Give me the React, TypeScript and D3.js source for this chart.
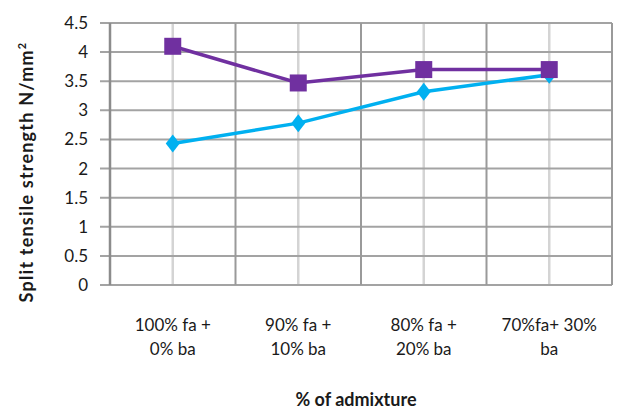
import { useMemo } from "react";
import * as d3 from "d3";

const categories = [
  ["100% fa +", "0% ba"],
  ["90% fa +", "10% ba"],
  ["80% fa +", "20% ba"],
  ["70%fa+ 30%", "ba"],
];
const purpleValues = [4.1, 3.47, 3.7, 3.7];
const blueValues = [2.43, 2.78, 3.32, 3.61];
const yTicks = [0, 0.5, 1, 1.5, 2, 2.5, 3, 3.5, 4, 4.5];

const W = 621;
const H = 413;
const PLOT = { left: 110, right: 612, top: 23, bottom: 285 };
const FONT = "Lato, 'Open Sans', sans-serif";

const App = () => {
  const xScale = useMemo(
    () =>
      d3
        .scaleBand<number>()
        .domain(d3.range(categories.length))
        .range([PLOT.left, PLOT.right]),
    []
  );
  const yScale = d3.scaleLinear().domain([0, 4.5]).range([PLOT.bottom, PLOT.top]);
  const cx = (i: number) => xScale(i)! + xScale.bandwidth() / 2;

  const line = d3
    .line<number>()
    .x((_, i) => cx(i))
    .y((d) => yScale(d));

  const bounds = d3.range(categories.length + 1).map((i) => PLOT.left + i * xScale.bandwidth());
  // diamond marker, a bit taller than wide
  const diamond = "M0,-9L7,0L0,9L-7,0Z";

  return (
    <svg width={W} height={H} style={{ position: "absolute", left: 0, top: 0, background: "#fff" }}>
      {categories.map((_, i) => (
        <line key={"c" + i} x1={cx(i)} x2={cx(i)} y1={PLOT.top} y2={PLOT.bottom} stroke="#d4d4d4" strokeWidth={2.5} />
      ))}
      {yTicks.map((t) => (
        <g key={t}>
          <line x1={100} x2={PLOT.right} y1={yScale(t)} y2={yScale(t)} stroke="#a3a3a3" strokeWidth={2} />
          <text x={88} y={yScale(t)} dy="0.35em" textAnchor="end" fontFamily={FONT} fontSize={17} fill="#1a1a1a">
            {t}
          </text>
        </g>
      ))}
      {bounds.map((x, i) => (
        <line key={"b" + i} x1={x} x2={x} y1={PLOT.top} y2={PLOT.bottom} stroke="#9a9a9a" strokeWidth={2} />
      ))}
      <line x1={PLOT.left} x2={PLOT.left} y1={PLOT.top} y2={PLOT.bottom} stroke="#8c8c8c" strokeWidth={2.5} />

      <path d={line(blueValues)!} fill="none" stroke="#00b0f0" strokeWidth={3.5} />
      {blueValues.map((v, i) => (
        <path key={"d" + i} d={diamond} transform={`translate(${cx(i)},${yScale(v)})`} fill="#00b0f0" />
      ))}
      <path d={line(purpleValues)!} fill="none" stroke="#7030a0" strokeWidth={3.5} />
      {purpleValues.map((v, i) => (
        <rect key={"s" + i} x={cx(i) - 8.5} y={yScale(v) - 8.5} width={17} height={17} fill="#7030a0" />
      ))}

      {categories.map((c, i) =>
        c.map((s, j) => (
          <text
            key={"t" + i + j}
            x={cx(i)}
            y={331 + j * 24}
            textAnchor="middle"
            fontFamily={FONT}
            fontSize={17}
            fill="#1a1a1a"
          >
            {s}
          </text>
        ))
      )}
      <text x={356} y={406} textAnchor="middle" fontFamily={FONT} fontSize={18} fontWeight="bold" fill="#1a1a1a">
        % of admixture
      </text>
      <text
        transform="translate(33,172) rotate(-90)"
        textAnchor="middle"
        fontFamily={FONT}
        fontSize={18}
        fontWeight="bold"
        letterSpacing={1.2}
        fill="#1a1a1a"
      >
        Split tensile strength N/mm<tspan fontSize={11} dy={-7}>2</tspan>
      </text>
    </svg>
  );
};

export default App;
